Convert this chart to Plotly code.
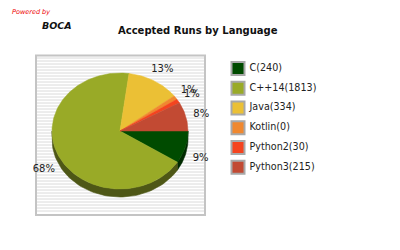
import numpy as np
import plotly.graph_objects as go

# ---- data ----
languages = ["C", "C++14", "Java", "Kotlin", "Python2", "Python3"]
accepted = [240, 1813, 334, 0, 30, 215]        # counts shown in the legend
slice_sizes = [240, 1813, 334, 30, 30, 215]    # slice sizes as drawn in the pie
top_colors = ["#004b00", "#99aa27", "#ebc035", "#f0882f", "#f4441f", "#c24a33"]
side_colors = ["#002a00", "#4e5716", "#8a7020", "#8a4e1a", "#8a2612", "#6e2a1d"]

# ---- geometry (pixel-like data coords) ----
W, H = 400, 250
cx, cy, rx, ry, depth = 120.0, 131.0, 68.0, 58.0, 8.0

total = float(sum(slice_sizes))
fracs = [v / total for v in slice_sizes]
pct_labels = [f"{round(100 * f)}%" for f in fracs]

fig = go.Figure()

# compute slice angle ranges (start at 3 o'clock, clockwise)
ranges = []
a = 0.0
for f in fracs:
    a2 = a - 360.0 * f
    ranges.append((a, a2))
    a = a2

def pt(theta_deg, dy=0.0):
    t = np.radians(theta_deg)
    return cx + rx * np.cos(t), cy - ry * np.sin(t) + dy

# side (rim) of the 3D pie: visible for angles in [-180, 0]
for (s, e), col in zip(ranges, side_colors):
    lo, hi = e, s
    segs = []
    for shift in (0.0, -360.0, 360.0):
        l2, h2 = max(lo + shift, -180.0), min(hi + shift, 0.0)
        if h2 > l2:
            segs.append((h2, l2))
    for h2, l2 in segs:
        th = np.linspace(h2, l2, 60)
        xs_top, ys_top = pt(th)
        xs_bot, ys_bot = pt(th[::-1], depth)
        xs = np.concatenate([xs_top, xs_bot, xs_top[:1]])
        ys = np.concatenate([ys_top, ys_bot, ys_top[:1]])
        fig.add_trace(go.Scatter(x=xs, y=ys, mode="lines", fill="toself",
                                 fillcolor=col, line=dict(color=col, width=0.6),
                                 hoverinfo="skip", showlegend=False))

# top surface slices
for (s, e), col in zip(ranges, top_colors):
    n = max(4, int(abs(s - e)))
    th = np.linspace(s, e, n + 1)
    ax_, ay_ = pt(th)
    xs = np.concatenate([[cx], ax_, [cx]])
    ys = np.concatenate([[cy], ay_, [cy]])
    fig.add_trace(go.Scatter(x=xs, y=ys, mode="lines", fill="toself",
                             fillcolor=col, line=dict(color=col, width=0.5),
                             hoverinfo="skip", showlegend=False))

# percentage labels
lx, ly = [], []
for (s, e) in ranges:
    m = np.radians((s + e) / 2.0)
    sx, sy = np.cos(m), np.sin(m)
    lx.append(cx + 84 * sx)
    ly.append(cy - 74 * sy + 2 + (5 if sy < 0 else 0))
fig.add_trace(go.Scatter(x=lx, y=ly, mode="text", text=pct_labels,
                         textposition="middle center",
                         textfont=dict(family="DejaVu Sans", size=10, color="#222222"),
                         hoverinfo="skip", showlegend=False))

# legend
leg_y = [68.5 + 19.75 * i for i in range(len(languages))]
fig.add_trace(go.Scatter(x=[238] * len(languages), y=leg_y, mode="markers",
                         marker=dict(symbol="square", size=13, color=top_colors,
                                     line=dict(color="#a8a8a8", width=2)),
                         hoverinfo="skip", showlegend=False))
fig.add_trace(go.Scatter(x=[249.5] * len(languages), y=leg_y, mode="text",
                         text=[f"{l}({c})" for l, c in zip(languages, accepted)],
                         textposition="middle right",
                         textfont=dict(family="DejaVu Sans", size=9.6, color="#222222"),
                         hoverinfo="skip", showlegend=False))

# background box with stripes
shapes = []
for yy in np.arange(58, 214, 3):
    shapes.append(dict(type="line", xref="x", yref="y", x0=37, x1=204, y0=yy, y1=yy,
                       line=dict(color="#dadada", width=1), layer="below"))
shapes.append(dict(type="rect", xref="x", yref="y", x0=36, x1=205, y0=55.5, y1=215,
                   line=dict(color="#c4c4c4", width=2), layer="below"))

fig.update_layout(
    width=W, height=H, autosize=False,
    margin=dict(l=0, r=0, t=0, b=0),
    paper_bgcolor="white", plot_bgcolor="white",
    xaxis=dict(range=[0, W], visible=False, fixedrange=True),
    yaxis=dict(range=[H, 0], visible=False, fixedrange=True),
    shapes=shapes,
    annotations=[
        dict(text="<b>Accepted Runs by Language</b>", x=198 / W, y=1 - 30 / H,
             xref="paper", yref="paper", showarrow=False, xanchor="center", yanchor="middle",
             font=dict(family="DejaVu Sans", size=10, color="#111111")),
        dict(text="<i>Powered by</i>", x=10 / W, y=1 - 11.5 / H,
             xref="paper", yref="paper", showarrow=False, xanchor="left", yanchor="middle",
             font=dict(family="DejaVu Sans", size=6.5, color="#ee0000")),
        dict(text="<i>BOCA</i>", x=39.5 / W, y=1 - 26 / H,
             xref="paper", yref="paper", showarrow=False, xanchor="left", yanchor="middle",
             font=dict(family="DejaVu Sans", size=9.5, color="#111111", weight=600)),
    ],
)

fig.write_html("out.html")
